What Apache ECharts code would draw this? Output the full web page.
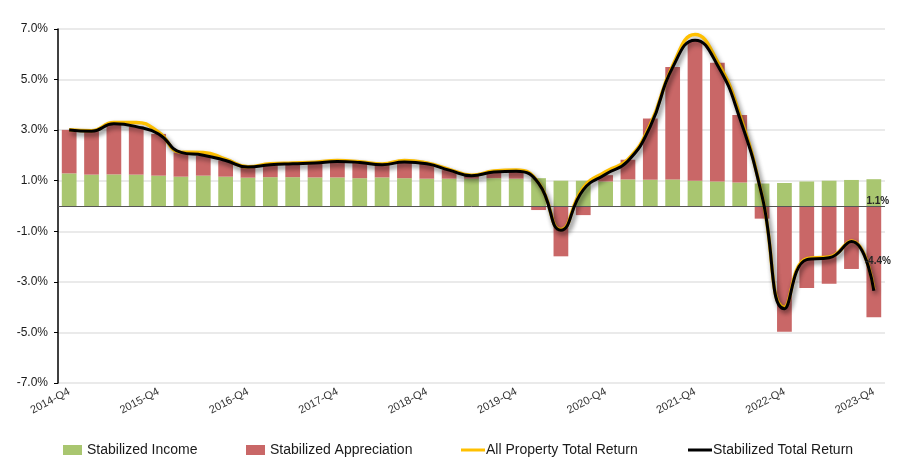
<!DOCTYPE html>
<html>
<head>
<meta charset="utf-8">
<script src="https://cdn.jsdelivr.net/npm/echarts@6/dist/echarts.min.js"></script>
<style>
html,body{margin:0;padding:0;background:#fff;}
#chart{width:904px;height:467px;}
</style>
</head>
<body>
<div id="chart"></div>
<script>
var categories = ['2014-Q4','2015-Q1','2015-Q2','2015-Q3','2015-Q4','2016-Q1','2016-Q2','2016-Q3','2016-Q4','2017-Q1','2017-Q2','2017-Q3','2017-Q4','2018-Q1','2018-Q2','2018-Q3','2018-Q4','2019-Q1','2019-Q2','2019-Q3','2019-Q4','2020-Q1','2020-Q2','2020-Q3','2020-Q4','2021-Q1','2021-Q2','2021-Q3','2021-Q4','2022-Q1','2022-Q2','2022-Q3','2022-Q4','2023-Q1','2023-Q2','2023-Q3','2023-Q4'];

var stabilizedIncome = [1.29,1.24,1.25,1.24,1.20,1.16,1.20,1.16,1.12,1.14,1.14,1.13,1.13,1.10,1.13,1.10,1.08,1.08,1.08,1.10,1.08,1.10,1.00,1.00,0.97,1.05,1.04,1.05,1.00,0.97,0.93,0.89,0.91,0.97,1.00,1.03,1.06];

var stabilizedAppreciation = [1.72,1.72,2.00,1.90,1.65,0.96,0.79,0.64,0.42,0.49,0.53,0.57,0.63,0.62,0.50,0.64,0.59,0.34,0.12,0.24,0.29,-0.16,-1.99,-0.36,0.25,0.78,2.42,4.45,5.54,4.70,2.67,-0.50,-4.97,-3.24,-3.07,-2.49,-4.40];

var allPropertyTotalReturn = [3.02,2.98,3.30,3.30,2.92,2.13,2.12,1.85,1.55,1.67,1.70,1.73,1.80,1.75,1.66,1.80,1.70,1.45,1.22,1.38,1.42,0.92,-0.93,0.72,1.36,1.84,3.22,5.55,6.78,5.72,3.62,0.40,-4.00,-2.08,-2.02,-1.38,-3.30];

var stabilizedTotalReturn = [3.01,2.96,3.25,3.14,2.85,2.12,2.01,1.80,1.54,1.63,1.67,1.70,1.76,1.72,1.63,1.74,1.67,1.42,1.20,1.34,1.37,0.90,-0.96,0.64,1.26,1.78,3.15,5.48,6.56,5.58,3.48,0.39,-4.06,-2.12,-2.05,-1.40,-3.35];

var yTicks = {min: -7, max: 7, interval: 2};

var FONT = '"Liberation Sans", Arial, sans-serif';
var last = categories.length - 1;

var chart = echarts.init(document.getElementById('chart'), null, {renderer: 'canvas'});

var lblStyle = {fontSize: 10, fontWeight: 'bold', color: '#262626', fontFamily: FONT,
  formatter: function (p) { return p.value.toFixed(1) + '%'; }};

// transparent overlay bars (same values) only to carry the end labels above the lines
var incomeLabelData = stabilizedIncome.map(function (v, i) {
  if (i === last) {
    return {value: v, label: Object.assign({show: true, position: ['50%', '100%'], align: 'center', verticalAlign: 'bottom', offset: [4, 0]}, lblStyle)};
  }
  return v;
});
var apprLabelData = stabilizedAppreciation.map(function (v, i) {
  if (i === last) {
    return {value: v, label: Object.assign({show: true, position: 'inside', offset: [4, 0]}, lblStyle)};
  }
  return v;
});

var legendText = {fontSize: 14, color: '#1a1a1a', fontFamily: FONT};

chart.setOption({
  animation: false,
  backgroundColor: '#ffffff',
  grid: {left: 58, right: 19, top: 29, bottom: 84, containLabel: false},
  legend: [
    {data: [{name: 'Stabilized Income', icon: 'rect'}], left: 63, top: 443, padding: 0, itemWidth: 19, itemHeight: 10, textStyle: legendText},
    {data: [{name: 'Stabilized Appreciation', icon: 'rect'}], left: 246, top: 443, padding: 0, itemWidth: 19, itemHeight: 10, textStyle: legendText},
    {data: [{name: 'All Property Total Return', icon: 'rect'}], left: 461, top: 443, padding: 0, itemWidth: 24, itemHeight: 3, textStyle: Object.assign({padding: [0, 0, 0, -4]}, legendText)},
    {data: [{name: 'Stabilized Total Return', icon: 'rect'}], left: 688, top: 443, padding: 0, itemWidth: 24, itemHeight: 3, textStyle: Object.assign({padding: [0, 0, 0, -4]}, legendText)}
  ],
  xAxis: {
    type: 'category',
    data: categories,
    boundaryGap: true,
    axisLine: {show: false},
    axisTick: {show: false},
    axisLabel: {interval: 3, rotate: 28, margin: 8, fontSize: 11, color: '#333', fontFamily: FONT},
    splitLine: {show: false}
  },
  yAxis: {
    type: 'value',
    min: yTicks.min, max: yTicks.max, interval: yTicks.interval,
    axisLine: {show: true, lineStyle: {color: '#000', width: 1.5}},
    axisTick: {show: true, length: 4, lineStyle: {color: '#000'}},
    axisLabel: {margin: 10, fontSize: 12, color: '#1a1a1a', fontFamily: FONT,
      formatter: function (v) { return v.toFixed(1) + '%'; }},
    splitLine: {show: true, lineStyle: {color: '#e3e3e3', width: 1.5}}
  },
  series: [
    {
      name: 'Stabilized Income', type: 'bar', stack: 'r', barWidth: '66%',
      itemStyle: {color: '#a9c670'},
      data: stabilizedIncome,
      markLine: {silent: true, symbol: 'none', label: {show: false},
        lineStyle: {color: '#555', width: 1, type: 'solid'}, data: [{yAxis: 0}]},
      z: 2
    },
    {
      name: 'Stabilized Appreciation', type: 'bar', stack: 'r', barWidth: '66%',
      itemStyle: {color: '#c96767'},
      data: stabilizedAppreciation,
      z: 2
    },
    {
      name: 'All Property Total Return', type: 'line', smooth: 0.5, symbol: 'none',
      lineStyle: {color: '#ffc000', width: 3.5, shadowColor: 'rgba(0,0,0,0.3)', shadowBlur: 5, shadowOffsetX: 2, shadowOffsetY: 3},
      itemStyle: {color: '#ffc000'},
      data: allPropertyTotalReturn,
      z: 4
    },
    {
      name: 'Stabilized Total Return', type: 'line', smooth: 0.5, symbol: 'none',
      lineStyle: {color: '#000000', width: 3, shadowColor: 'rgba(0,0,0,0.4)', shadowBlur: 5, shadowOffsetX: 2, shadowOffsetY: 3},
      itemStyle: {color: '#000000'},
      data: stabilizedTotalReturn,
      z: 5
    },
    {
      name: 'lblIncome', type: 'bar', stack: 'lbl', barWidth: '66%', barGap: '-100%',
      itemStyle: {color: 'rgba(0,0,0,0)'}, silent: true, tooltip: {show: false},
      data: incomeLabelData, z: 8
    },
    {
      name: 'lblAppr', type: 'bar', stack: 'lbl', barWidth: '66%', barGap: '-100%',
      itemStyle: {color: 'rgba(0,0,0,0)'}, silent: true, tooltip: {show: false},
      data: apprLabelData, z: 8
    }
  ]
});
</script>
</body>
</html>
